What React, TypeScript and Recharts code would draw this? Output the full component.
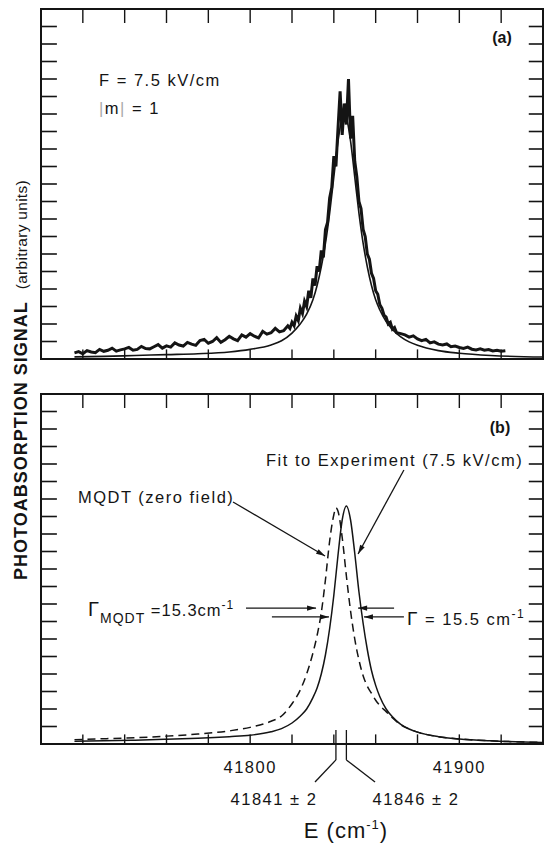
import React from 'react';
import { LineChart, Line, XAxis, YAxis, ReferenceLine, ReferenceArea } from 'recharts';

// ---------- axis settings ----------
const X_MIN = 41700;
const X_MAX = 41940;
const Y_MAX = 20;
const energyTicks = [41720, 41740, 41760, 41780, 41800, 41820, 41840, 41860, 41880, 41900, 41920];
const energyTickLabels = [41800, 41900];
const signalTicks = [1, 2, 3, 4, 5, 6, 7, 8, 9, 10, 11, 12, 13, 14, 15, 16, 17, 18, 19];

// ---------- panel (a): experimental trace ----------
const expEnergy = [
  41716, 41718, 41720, 41722, 41724, 41726, 41728, 41730, 41732, 41734, 41736, 41738, 41740,
  41742, 41744, 41746, 41748, 41750, 41752, 41754, 41756, 41758, 41760, 41762, 41764, 41766,
  41768, 41770, 41772, 41774, 41776, 41778, 41780, 41782, 41784, 41786, 41788, 41790, 41792,
  41794, 41796, 41798, 41800, 41802, 41804, 41806, 41808, 41810, 41812, 41814, 41816, 41818,
  41819, 41820, 41821, 41822, 41823, 41824, 41825, 41826, 41827, 41828, 41829, 41830, 41831,
  41832, 41833, 41834, 41835, 41836, 41837, 41838, 41839, 41840, 41841, 41842, 41843, 41844,
  41845, 41846, 41847, 41848, 41849, 41850, 41851, 41852, 41853, 41854, 41855, 41856, 41857,
  41858, 41859, 41860, 41861, 41862, 41863, 41864, 41865, 41866, 41867, 41868, 41869, 41870,
  41872, 41874, 41876, 41878, 41880, 41882, 41884, 41886, 41888, 41890, 41892, 41894, 41896,
  41898, 41900, 41902, 41904, 41906, 41908, 41910, 41912, 41914, 41916, 41918, 41920, 41922,
];
const expSignal = [
  0.35, 0.42, 0.30, 0.48, 0.40, 0.36, 0.55, 0.44, 0.50, 0.62, 0.45, 0.52, 0.58,
  0.66, 0.50, 0.55, 0.72, 0.60, 0.58, 0.70, 0.82, 0.62, 0.75, 0.68, 0.92, 0.80,
  0.74, 0.95, 0.85, 0.78, 1.05, 1.12, 0.90, 1.00, 1.22, 0.95, 1.10, 1.30, 1.15,
  1.05, 1.38, 1.25, 1.45, 1.30, 1.20, 1.58, 1.42, 1.50, 1.75, 1.55, 1.62, 1.90,
  1.75, 2.10, 1.90, 2.45, 2.20, 2.90, 2.60, 3.30, 3.00, 3.90, 3.50, 4.60, 4.20,
  5.30, 5.00, 6.20, 5.80, 7.40, 7.80, 9.20, 9.80, 11.6, 11.0, 13.2, 15.3, 12.8,
  14.6, 13.4, 16.0, 12.6, 13.9, 11.3, 10.4, 9.0, 8.6, 7.4, 7.0, 6.0, 5.7,
  4.9, 4.6, 3.9, 3.7, 3.1, 2.9, 2.5, 2.4, 2.0, 2.1, 1.7, 1.8, 1.5,
  1.45, 1.38, 1.25, 1.32, 1.15, 1.05, 1.12, 0.92, 0.98, 0.85, 0.80, 0.86, 0.70,
  0.74, 0.66, 0.60, 0.68, 0.56, 0.52, 0.58, 0.50, 0.54, 0.46, 0.50, 0.44, 0.47,
];

// ---------- panel (a): smooth fit drawn through the data ----------
const fitAEnergy = [
  41716, 41730, 41745, 41760, 41775, 41790, 41800, 41810, 41815, 41820, 41824, 41827, 41830,
  41832, 41834, 41836, 41838, 41840, 41842, 41844, 41845, 41846, 41848, 41850, 41852, 41854,
  41856, 41858, 41860, 41862, 41865, 41868, 41872, 41876, 41880, 41890, 41900, 41915, 41940,
];
const fitASignal = [
  0.12, 0.15, 0.2, 0.25, 0.3, 0.4, 0.55, 0.8, 1.04, 1.48, 2.01, 2.56, 3.38,
  4.2, 5.27, 6.62, 8.34, 10.4, 12.45, 13.8, 14.0, 13.8, 12.45, 10.4, 8.34, 6.62,
  5.27, 4.2, 3.38, 2.8, 2.14, 1.69, 1.27, 0.98, 0.78, 0.48, 0.33, 0.2, 0.11,
];

// ---------- panel (b): fit to experiment (7.5 kV/cm) ----------
const fitEnergy = [
  41716, 41730, 41745, 41760, 41775, 41790, 41800, 41810, 41815, 41820, 41824, 41827, 41830,
  41832, 41834, 41836, 41838, 41840, 41842, 41844, 41846, 41848, 41850, 41852, 41854, 41856,
  41858, 41860, 41862, 41865, 41868, 41872, 41876, 41880, 41890, 41900, 41915, 41940,
];
const fitSignal = [
  0.15, 0.18, 0.22, 0.27, 0.33, 0.42, 0.5, 0.7, 0.88, 1.2, 1.6, 2.0, 2.65,
  3.2, 4.0, 5.1, 6.6, 8.5, 10.8, 12.8, 13.6, 12.8, 10.9, 8.7, 6.9, 5.4,
  4.2, 3.35, 2.7, 2.0, 1.55, 1.12, 0.86, 0.68, 0.42, 0.29, 0.18, 0.09,
];

// ---------- panel (b): MQDT (zero field) ----------
const mqdtEnergy = [
  41716, 41730, 41745, 41760, 41775, 41790, 41800, 41810, 41815, 41820, 41824, 41827, 41830,
  41832, 41834, 41836, 41838, 41840, 41841, 41842, 41844, 41846, 41848, 41850, 41852, 41854,
  41856, 41858, 41860, 41862, 41865, 41868, 41872, 41876, 41880, 41890, 41900, 41915, 41940,
];
const mqdtSignal = [
  0.25, 0.3, 0.36, 0.45, 0.57, 0.75, 0.95, 1.3, 1.6, 2.3, 3.1, 4.0, 5.2,
  6.2, 7.5, 9.4, 11.6, 13.1, 13.5, 13.3, 11.8, 9.6, 7.6, 6.0, 4.8, 3.9,
  3.3, 2.9, 2.5, 2.2, 1.85, 1.5, 1.1, 0.86, 0.68, 0.42, 0.29, 0.18, 0.09,
];

// peak positions marked below the axis
const peakMqdt = 41841;
const peakFit = 41846;

const toPoints = (xs: number[], ys: number[]) => xs.map((x, i) => ({ x, y: ys[i] }));
const expData = toPoints(expEnergy, expSignal);
const fitAData = toPoints(fitAEnergy, fitASignal);
const fitData = toPoints(fitEnergy, fitSignal);
const mqdtData = toPoints(mqdtEnergy, mqdtSignal);

const INK = '#141414';
const FONT = '"Liberation Sans", Arial, sans-serif';

const arrowShape = (p: any) => {
  const { x1, y1, x2, y2 } = p;
  const ang = Math.atan2(y2 - y1, x2 - x1);
  const L = 9;
  const W = 2.6;
  const bx = x2 - L * Math.cos(ang);
  const by = y2 - L * Math.sin(ang);
  const px = -Math.sin(ang) * W;
  const py = Math.cos(ang) * W;
  return (
    <g>
      <line x1={x1} y1={y1} x2={x2} y2={y2} stroke={INK} strokeWidth={1.3} />
      <polygon points={`${x2},${y2} ${bx + px},${by + py} ${bx - px},${by - py}`} fill={INK} />
    </g>
  );
};

const seg = (key: string, ax: number, ay: number, bx: number, by: number, w = 1.4, arrow = false) => (
  <ReferenceLine
    key={key}
    segment={[{ x: ax, y: ay }, { x: bx, y: by }]}
    stroke={INK}
    strokeWidth={w}
    ifOverflow="visible"
    shape={arrow ? arrowShape : undefined}
  />
);

// frame with inward ticks (sizes in data units)
const frame = (id: string) => {
  const els: any[] = [];
  els.push(
    <ReferenceArea
      key={id + 'frame'}
      x1={X_MIN}
      x2={X_MAX}
      y1={0}
      y2={Y_MAX}
      fill="none"
      stroke={INK}
      strokeWidth={2}
      ifOverflow="visible"
    />
  );
  signalTicks.forEach((t) => {
    els.push(seg(id + 'l' + t, X_MIN, t, X_MIN + 7.6, t, 1.6));
    els.push(seg(id + 'r' + t, X_MAX - 6.8, t, X_MAX, t, 1.6));
  });
  energyTicks.forEach((t) => {
    els.push(seg(id + 't' + t, t, Y_MAX, t, Y_MAX - 0.8, 1.4));
    els.push(seg(id + 'b' + t, t, 0, t, 0.55, 1.4));
  });
  return els;
};

const W = 546;

export default function App() {
  return (
    <div style={{ position: 'absolute', left: 0, top: 0, width: W, height: 847, background: '#fff', fontFamily: FONT }}>
      {/* panel (a) */}
      <div style={{ position: 'absolute', left: 0, top: 0 }}>
        <LineChart width={W} height={380} margin={{ top: 9, right: 3, bottom: 21, left: 41 }}>
          <XAxis dataKey="x" type="number" domain={[X_MIN, X_MAX]} allowDataOverflow hide />
          <YAxis type="number" domain={[0, Y_MAX]} allowDataOverflow hide />
          {frame('a')}
          <Line data={fitAData} dataKey="y" type="monotone" dot={false} stroke={INK} strokeWidth={1.6} isAnimationActive={false} />
          <Line data={expData} dataKey="y" type="linear" dot={false} stroke={INK} strokeWidth={3} strokeLinejoin="miter" isAnimationActive={false} />
        </LineChart>
      </div>

      {/* panel (b) */}
      <div style={{ position: 'absolute', left: 0, top: 380 }}>
        <LineChart width={W} height={467} margin={{ top: 14, right: 3, bottom: 73, left: 41 }}>
          <XAxis
            dataKey="x"
            type="number"
            domain={[X_MIN, X_MAX]}
            allowDataOverflow
            ticks={energyTickLabels}
            axisLine={false}
            tickLine={false}
            tickMargin={11}
            height={30}
            tick={{ fontSize: 16.5, fill: INK, fontFamily: FONT, letterSpacing: 1.5 } as any}
          />
          <YAxis type="number" domain={[0, Y_MAX]} allowDataOverflow hide />
          {frame('b')}
          <Line data={mqdtData} dataKey="y" type="monotone" dot={false} stroke={INK} strokeWidth={1.5} strokeDasharray="8 5" isAnimationActive={false} />
          <Line data={fitData} dataKey="y" type="monotone" dot={false} stroke={INK} strokeWidth={1.5} isAnimationActive={false} />
          {/* leader lines to the curves */}
          {seg('ldMqdt', 41791.8, 13.83, 41835.8, 10.74, 1.2, true)}
          {seg('ldFit', 41873.5, 15.66, 41851.6, 10.86, 1.2, true)}
          {/* width arrows */}
          {seg('wm1', 41798.0, 7.77, 41831.5, 7.77, 1.3, true)}
          {seg('wm2', 41868.8, 7.77, 41851.6, 7.77, 1.3, true)}
          {seg('wf1', 41810.4, 7.26, 41837.7, 7.26, 1.3, true)}
          {seg('wf2', 41873.5, 7.26, 41854.4, 7.26, 1.3, true)}
          {/* peak markers below the axis */}
          {seg('pm1', peakMqdt, 0.8, peakMqdt, -0.91, 1.3)}
          {seg('pm2', peakMqdt, -0.91, 41831.0, -2.17, 1.3)}
          {seg('pf1', peakFit, 0.8, peakFit, -0.91, 1.3)}
          {seg('pf2', peakFit, -0.91, 41859.7, -2.17, 1.3)}
        </LineChart>
      </div>

      {/* text annotations */}
      <svg width={W} height={847} style={{ position: 'absolute', left: 0, top: 0, pointerEvents: 'none' }} fontFamily={FONT} fill={INK}>
        <text transform="translate(27, 380) rotate(-90)" textAnchor="middle">
          <tspan fontSize={18} fontWeight="bold" letterSpacing={1}>PHOTOABSORPTION SIGNAL</tspan>
          <tspan fontSize={15.5} dx={12} letterSpacing={0.3}>(arbitrary units)</tspan>
        </text>

        <text x={502} y={43} fontSize={16} fontWeight="bold" textAnchor="middle">(a)</text>
        <text x={99} y={86} fontSize={16.5} letterSpacing={1.5}>F = 7.5 kV/cm</text>
        <text x={99} y={114} fontSize={16.5} letterSpacing={1.5}>
          <tspan fill="#aaa">|</tspan>m<tspan fill="#aaa">|</tspan> = 1
        </text>

        <text x={500} y={433} fontSize={16} fontWeight="bold" textAnchor="middle">(b)</text>
        <text x={266} y={466} fontSize={16.5} letterSpacing={1.5}>Fit to Experiment (7.5 kV/cm)</text>
        <text x={78} y={503} fontSize={16.5} letterSpacing={1.5}>MQDT (zero field)</text>

        <text x={88} y={616} fontSize={16.5} letterSpacing={1}>
          <tspan fontSize={20}>Γ</tspan>
          <tspan fontSize={14} dy={7}>MQDT</tspan>
          <tspan dy={-7}> =15.3cm</tspan>
          <tspan fontSize={12} dy={-7}>-1</tspan>
        </text>
        <text x={407} y={625} fontSize={16.5} letterSpacing={1.5}>
          <tspan fontSize={19}>Γ</tspan> = 15.5 cm<tspan fontSize={12} dy={-7}>-1</tspan>
        </text>

        <text x={274} y={805} fontSize={16.5} letterSpacing={1.5} textAnchor="middle">41841 ± 2</text>
        <text x={416} y={805} fontSize={16.5} letterSpacing={1.5} textAnchor="middle">41846 ± 2</text>

        <text x={346} y={838} fontSize={22} letterSpacing={1} textAnchor="middle">
          E (cm<tspan fontSize={13} dy={-9}>-1</tspan><tspan dy={9}>)</tspan>
        </text>
      </svg>
    </div>
  );
}
